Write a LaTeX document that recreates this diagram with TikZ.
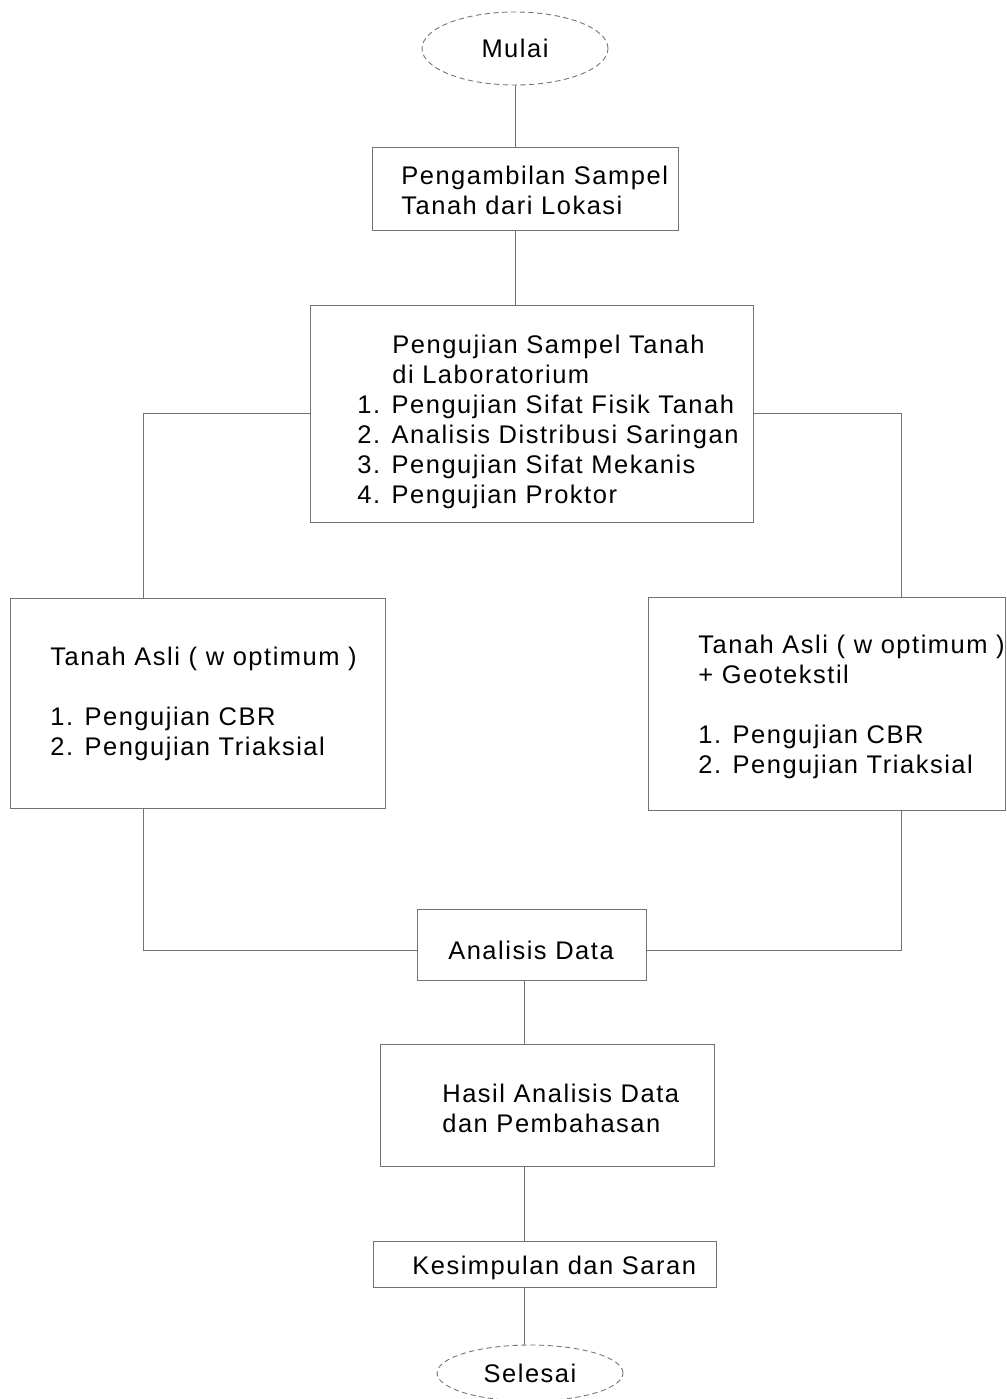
\documentclass[tikz,border=0pt]{standalone}
\usepackage{fontspec}
\setmainfont{Liberation Sans}[LetterSpace=6.0]
\usepackage{tikz}
\usetikzlibrary{positioning,calc,shapes.geometric}
\tikzset{kotak/.style={rectangle, draw=black!55, line width=0.5pt, inner sep=0pt}}
\tikzset{oval/.style={ellipse, draw=black!55, line width=0.5pt, densely dashed, inner sep=0pt}}
\tikzset{garis/.style={draw=black!55, line width=0.5pt}}
\tikzset{teks/.style={inner sep=0pt, align=left}}
\begin{document}
\begin{tikzpicture}[x=0.02cm, y=-0.02cm, font=\fontsize{14.5}{17.07}\selectfont]
\useasboundingbox (0,0) rectangle (1007,1399);
% kotak-kotak
\node[oval, minimum width=3.72cm, minimum height=1.46cm] (mulai) at (515,48.5) {Mulai};
\node[kotak, minimum width=6.12cm, minimum height=1.66cm] (ambil) at (525,188.5) {};
\node[teks, anchor=west] (ambil-t) at (401,190) {Pengambilan Sampel\\Tanah dari Lokasi};
\node[kotak, minimum width=8.86cm, minimum height=4.34cm] (uji) at (531.5,413.5) {};
\node[teks, anchor=west] (uji-t) at (357,422) {\hspace*{0.7cm}Pengujian Sampel Tanah\\
    \hspace*{0.7cm}di Laboratorium\\
    1. Pengujian Sifat Fisik Tanah\\
    2. Analisis Distribusi Saringan\\
    3. Pengujian Sifat Mekanis\\
    4. Pengujian Proktor};
\node[kotak, minimum width=7.5cm, minimum height=4.2cm] (asli) at (197.5,703) {};
\node[teks, anchor=west] (asli-t) at (50,704) {Tanah Asli ( w optimum )\\[17pt]
    1. Pengujian CBR\\
    2. Pengujian Triaksial};
\node[kotak, minimum width=7.14cm, minimum height=4.26cm] (geo) at (826.5,703.5) {};
\node[teks, anchor=west] (geo-t) at (698,707) {Tanah Asli ( w optimum )\\
    + Geotekstil\\[17pt]
    1. Pengujian CBR\\
    2. Pengujian Triaksial};
\node[kotak, minimum width=4.58cm, minimum height=1.42cm] (analisis) at (531.5,944.5) {};
\node[teks] (analisis-t) at (531,950) {Analisis Data};
\node[kotak, minimum width=6.68cm, minimum height=2.44cm] (hasil) at (547,1105) {};
\node[teks, anchor=west] (hasil-t) at (442,1108) {Hasil Analisis Data\\dan Pembahasan};
\node[kotak, minimum width=6.86cm, minimum height=0.92cm] (simpul) at (544.5,1264) {};
\node[teks, anchor=west] (simpul-t) at (412,1268) {Kesimpulan dan Saran};
\node[oval, minimum width=3.72cm, minimum height=1.12cm] (selesai) at (530,1373) {Selesai};
%
% garis penghubung
\coordinate (kiri) at (143,413.5);
\coordinate (kanan) at (901,413.5);
\coordinate (tengah) at (524,0);
\draw[garis] (mulai) -- (ambil.north -| mulai);
\draw[garis] (ambil.south -| mulai) -- (uji.north -| mulai);
\draw[garis] (uji.west) -- (kiri) -- (kiri |- asli.north);
\draw[garis] (uji.east) -- (kanan) -- (kanan |- geo.north);
\draw[garis] (kiri |- asli.south) -- (kiri |- analisis-t) -- (analisis.west |- analisis-t);
\draw[garis] (kanan |- geo.south) -- (kanan |- analisis-t) -- (analisis.east |- analisis-t);
\draw[garis] (analisis.south -| tengah) -- (hasil.north -| tengah);
\draw[garis] (hasil.south -| tengah) -- (simpul.north -| tengah);
\draw[garis] (simpul.south -| tengah) -- (selesai.north -| tengah);
\end{tikzpicture}
\end{document}
